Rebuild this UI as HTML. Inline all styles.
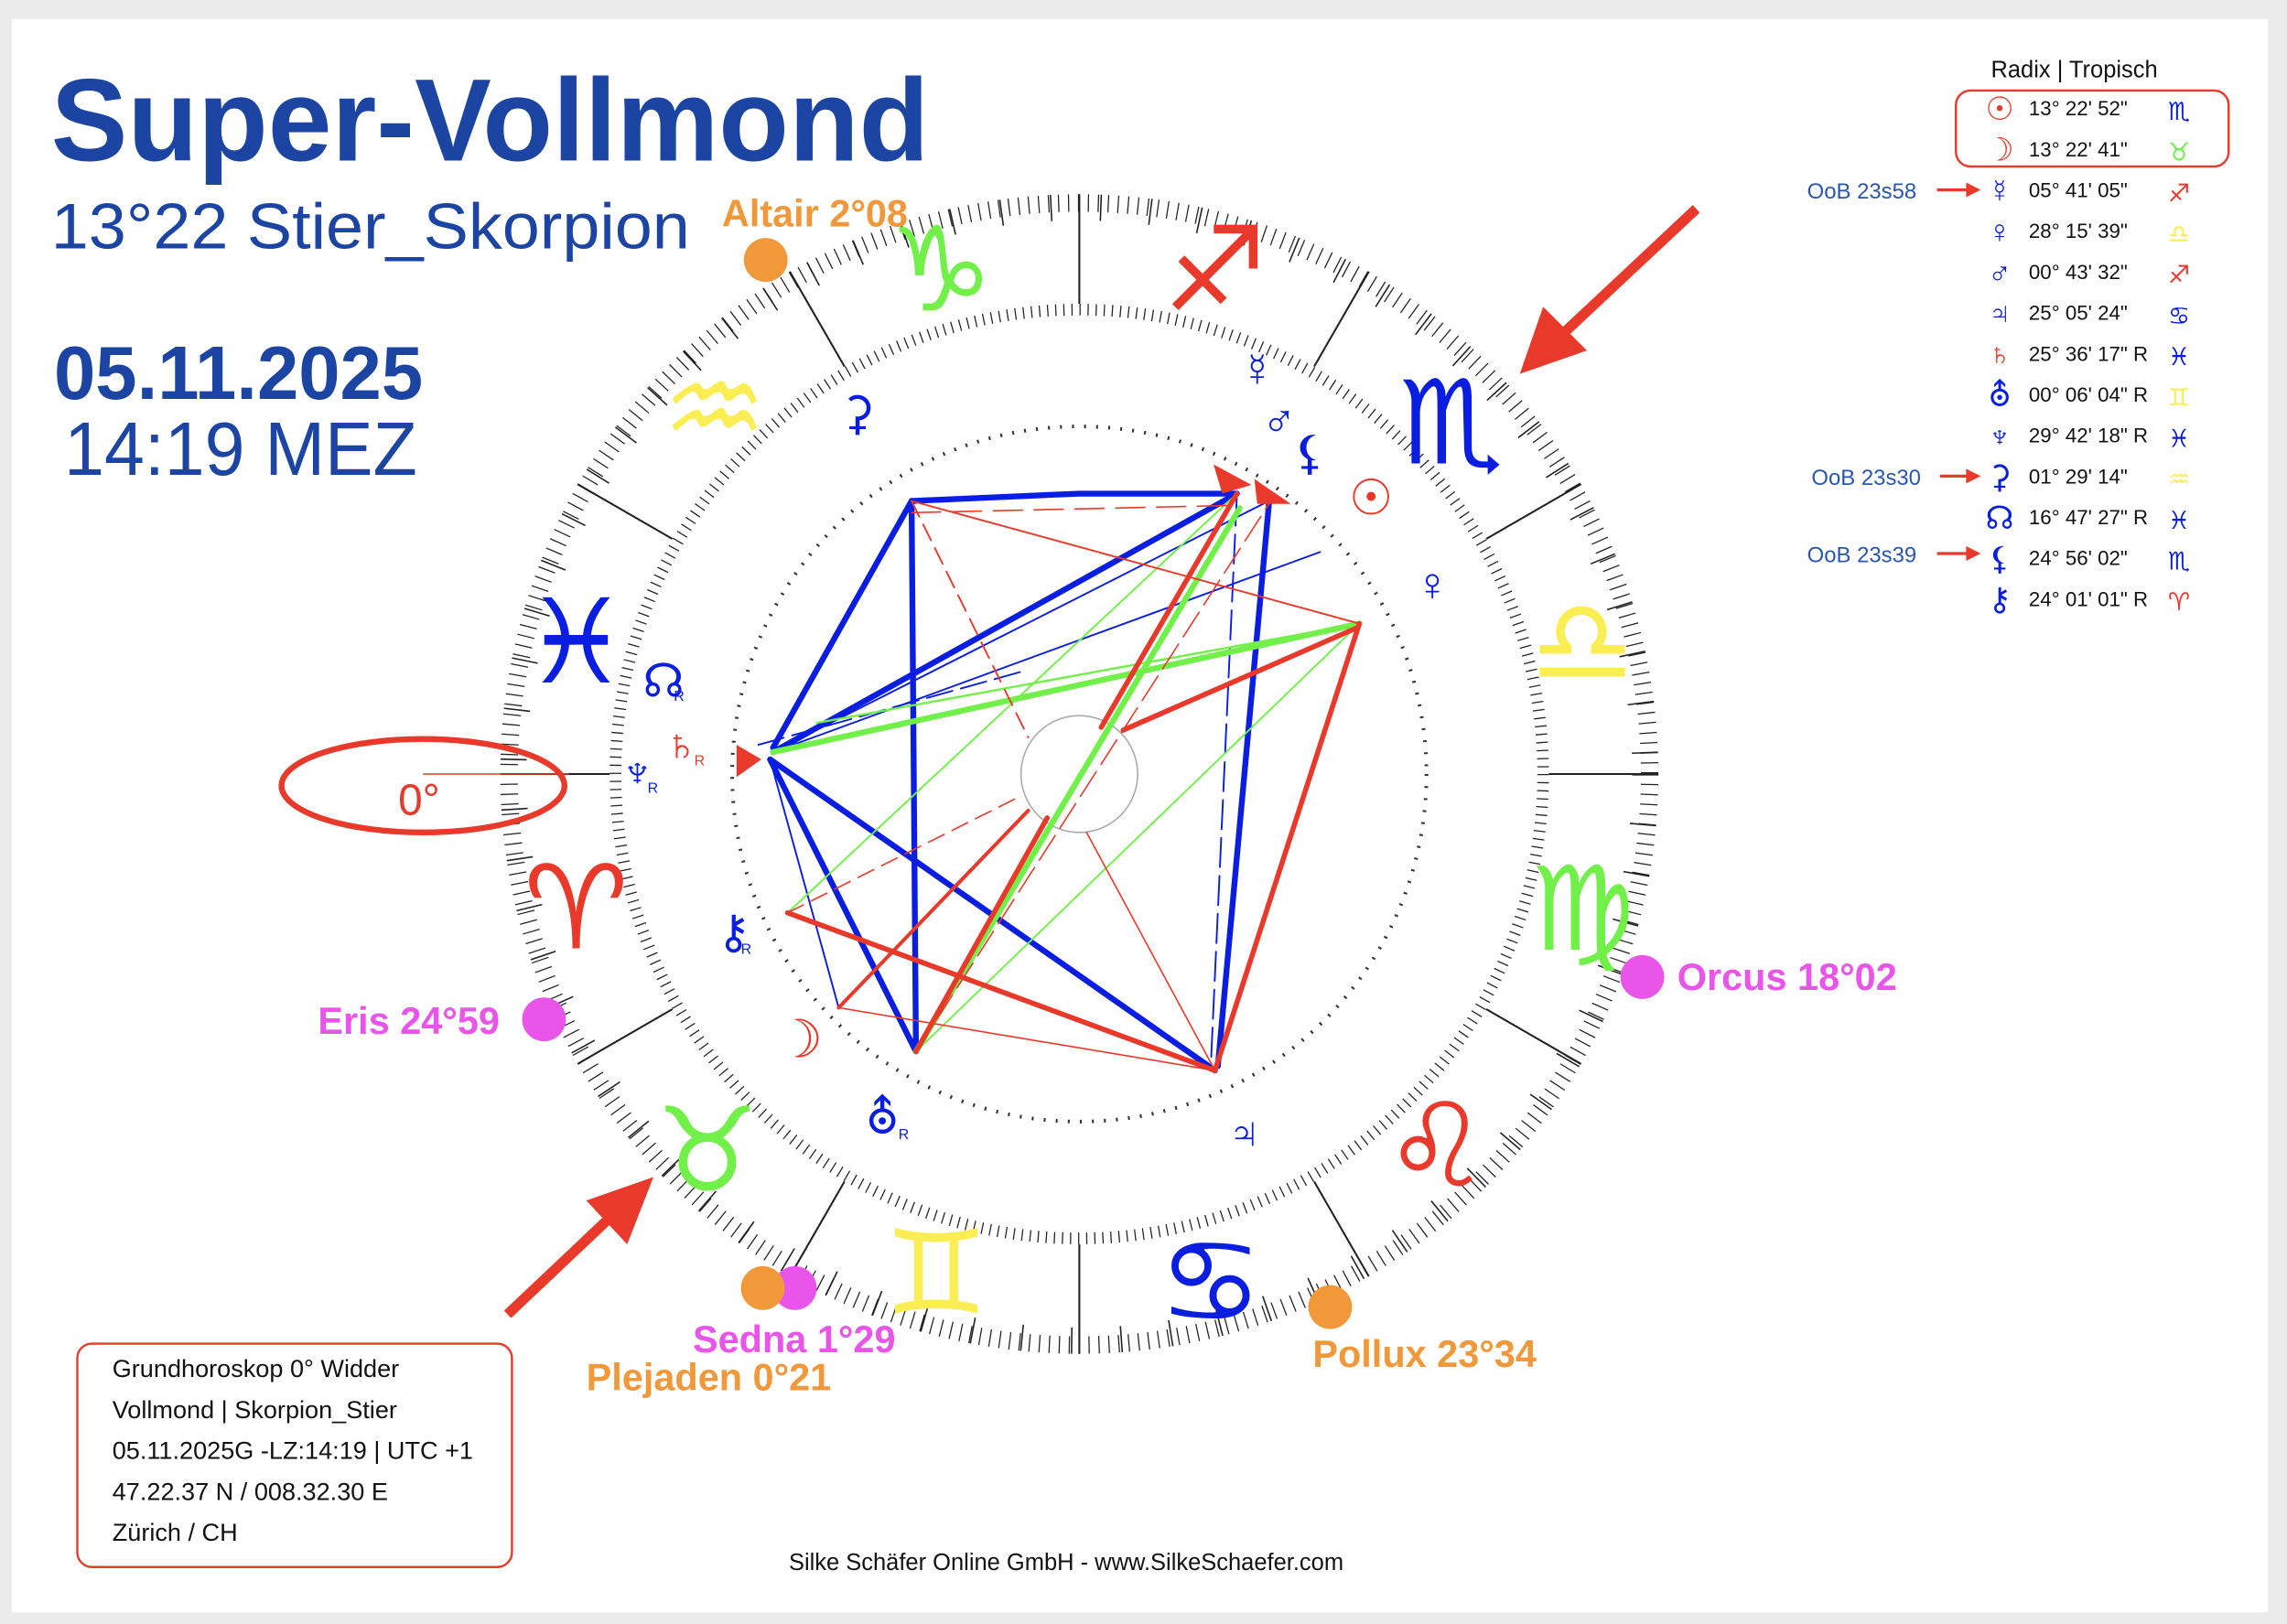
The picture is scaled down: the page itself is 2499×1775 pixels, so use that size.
<!DOCTYPE html>
<html><head><meta charset="utf-8"><style>
html,body{margin:0;padding:0;background:#ebebeb;}
svg{display:block;}
text{font-family:"Liberation Sans","DejaVu Sans",sans-serif;}
.g{font-family:"DejaVu Sans",sans-serif;}
</style></head><body>
<svg width="2499" height="1775" viewBox="0 0 1568 1112" preserveAspectRatio="none" xmlns="http://www.w3.org/2000/svg">
<rect x="0" y="0" width="1568" height="1112" fill="#ebebeb"/>
<rect x="8" y="13" width="1547" height="1091" fill="#fff"/>

<text x="35" y="110" font-size="80" font-weight="bold" fill="#1c45a3" textLength="602" lengthAdjust="spacingAndGlyphs">Super-Vollmond</text>
<text x="35" y="170" font-size="44" fill="#1c45a3" textLength="438" lengthAdjust="spacingAndGlyphs">13°22 Stier_Skorpion</text>
<text x="37" y="273" font-size="52" font-weight="bold" fill="#1c45a3" textLength="253" lengthAdjust="spacingAndGlyphs">05.11.2025</text>
<text x="44" y="325" font-size="52" fill="#1c45a3" textLength="242" lengthAdjust="spacingAndGlyphs">14:19 MEZ</text>

<g fill="none" stroke="#222">
<circle cx="740" cy="530" r="391" stroke-width="12" stroke-dasharray="0.8 6.02"/>
<circle cx="740" cy="530" r="388" stroke-width="18" stroke-dasharray="1 33.12"/>
<circle cx="740" cy="530" r="318" stroke-width="8" stroke-dasharray="0.8 4.75"/>
<circle cx="740" cy="530" r="238" stroke-width="2.5" stroke-dasharray="1.3 6.97" stroke="#333"/>
<circle cx="740" cy="530" r="40" stroke="#aaa" stroke-width="1"/>
</g>
<g stroke="#222" stroke-width="1.3">
<line x1="1062" y1="530" x2="1137" y2="530"/>
<line x1="1019" y1="369" x2="1084" y2="331.5"/>
<line x1="901" y1="251" x2="938.5" y2="186"/>
<line x1="740" y1="208" x2="740" y2="133"/>
<line x1="579" y1="251" x2="541.5" y2="186"/>
<line x1="461" y1="369" x2="396" y2="331.5"/>
<line x1="418" y1="530" x2="343" y2="530"/>
<line x1="461" y1="691" x2="396" y2="728.5"/>
<line x1="579" y1="809" x2="541.5" y2="874"/>
<line x1="740" y1="852" x2="740" y2="927"/>
<line x1="901" y1="809" x2="938.5" y2="874"/>
<line x1="1019" y1="691" x2="1084" y2="728.5"/>
</g>

<g class="g" font-size="80" font-weight="bold" text-anchor="middle" dominant-baseline="central">
<text x="395" y="622" fill="#e8392a">♈</text>
<text x="485" y="788" fill="#72f04a">♉</text>
<text x="642" y="872" fill="#fbee55">♊</text>
<text x="830" y="878" fill="#0a1ee0">♋</text>
<text x="985" y="785" fill="#e8392a">♌</text>
<text x="1085" y="623" fill="#72f04a">♍</text>
<text x="1085" y="440" fill="#fbee55">♎</text>
<text x="995" y="290" fill="#0a1ee0">♏</text>
<text x="833" y="185" fill="#e8392a">♐</text>
<text x="645" y="185" fill="#72f04a">♑</text>
<text x="490" y="280" fill="#fbee55">♒</text>
<text x="395" y="440" fill="#0a1ee0">♓</text>
</g>

<g fill="none" stroke-linecap="round">
<path d="M625 343 L740 338 L848 338" stroke="#0a1ee0" stroke-width="4"/>
<line x1="625" y1="343" x2="530" y2="512" stroke="#0a1ee0" stroke-width="4"/>
<line x1="625" y1="343" x2="628" y2="720" stroke="#0a1ee0" stroke-width="4"/>
<line x1="528" y1="520" x2="833" y2="733" stroke="#0a1ee0" stroke-width="4"/>
<line x1="530" y1="515" x2="848" y2="338" stroke="#0a1ee0" stroke-width="4"/>
<line x1="530" y1="515" x2="870" y2="343" stroke="#0a1ee0" stroke-width="1.2"/>
<line x1="530" y1="515" x2="905" y2="378" stroke="#0a1ee0" stroke-width="1.2"/>
<line x1="870" y1="345" x2="835" y2="730" stroke="#0a1ee0" stroke-width="4"/>
<line x1="848" y1="340" x2="830" y2="733" stroke="#0a1ee0" stroke-width="1.2" stroke-dasharray="20 6"/>
<line x1="528" y1="520" x2="575" y2="690" stroke="#0a1ee0" stroke-width="1.2"/>
<line x1="528" y1="520" x2="628" y2="720" stroke="#0a1ee0" stroke-width="4"/>
<line x1="528" y1="520" x2="833" y2="733" stroke="#0a1ee0" stroke-width="1" stroke-dasharray="18 6"/>
<line x1="520" y1="510" x2="700" y2="460" stroke="#0a1ee0" stroke-width="1.2" stroke-dasharray="18 6"/>
<line x1="530" y1="515" x2="932" y2="427" stroke="#72f04a" stroke-width="4"/>
<line x1="560" y1="495" x2="932" y2="427" stroke="#72f04a" stroke-width="1.5"/>
<line x1="628" y1="720" x2="932" y2="427" stroke="#72f04a" stroke-width="1.2"/>
<line x1="540" y1="625" x2="848" y2="338" stroke="#72f04a" stroke-width="1.2"/>
<line x1="628" y1="720" x2="850" y2="348" stroke="#72f04a" stroke-width="4"/>
<line x1="625" y1="343" x2="932" y2="427" stroke="#e8392a" stroke-width="1.2"/>
<line x1="625" y1="343" x2="705" y2="505" stroke="#e8392a" stroke-width="1.2" stroke-dasharray="12 6"/>
<line x1="625" y1="351" x2="848" y2="346" stroke="#e8392a" stroke-width="1" stroke-dasharray="20 8"/>
<line x1="755" y1="498" x2="848" y2="338" stroke="#e8392a" stroke-width="3.5"/>
<line x1="770" y1="500" x2="930" y2="430" stroke="#e8392a" stroke-width="3.5"/>
<line x1="833" y1="733" x2="932" y2="427" stroke="#e8392a" stroke-width="3.5"/>
<line x1="575" y1="690" x2="833" y2="733" stroke="#e8392a" stroke-width="1"/>
<line x1="540" y1="625" x2="833" y2="733" stroke="#e8392a" stroke-width="3.5"/>
<line x1="628" y1="720" x2="718" y2="560" stroke="#e8392a" stroke-width="3.5"/>
<line x1="575" y1="690" x2="705" y2="555" stroke="#e8392a" stroke-width="2.5"/>
<line x1="540" y1="625" x2="700" y2="545" stroke="#e8392a" stroke-width="1" stroke-dasharray="12 6"/>
<line x1="833" y1="733" x2="745" y2="570" stroke="#e8392a" stroke-width="1"/>
<line x1="628" y1="720" x2="870" y2="345" stroke="#e8392a" stroke-width="1" stroke-dasharray="20 6"/>
</g>
<g fill="#e8392a">
<polygon points="505,510 522,520 505,532"/>
<polygon points="832,318 858,332 838,338"/>
<polygon points="860,328 885,345 862,345"/>
</g>

<g class="g" font-size="32" font-weight="bold" text-anchor="middle" dominant-baseline="central" fill="#0a1ee0">
<text x="862" y="253">☿</text>
<text x="877" y="287">♂</text>
<text x="898" y="310">⚸</text>
<text x="940" y="341" fill="#e8392a" font-size="34">☉</text>
<text x="982" y="400">♀</text>
<text x="853" y="776">♃</text>
<text x="605" y="765">⛢</text>
<text x="548" y="712" fill="#e8392a" font-size="36">☽</text>
<text x="503" y="638">⚷</text>
<text x="467" y="510" fill="#e8392a">♄</text>
<text x="437" y="528">♆</text>
<text x="455" y="466">☊</text>
<text x="588" y="283">⚳</text>
</g>
<g font-size="10" fill="#0a1ee0">
<text x="616" y="780">R</text><text x="508" y="653">R</text><text x="476" y="524" fill="#e8392a">R</text>
<text x="444" y="543">R</text><text x="462" y="480">R</text>
</g>

<g font-weight="bold" font-size="26">
<text x="495" y="155" fill="#f0983a">Altair 2°08</text>
<text x="218" y="708" fill="#e855e8">Eris 24°59</text>
<text x="1150" y="678" fill="#e855e8">Orcus 18°02</text>
<text x="475" y="926" fill="#e855e8">Sedna 1°29</text>
<text x="402" y="952" fill="#f0983a">Plejaden 0°21</text>
<text x="900" y="936" fill="#f0983a">Pollux 23°34</text>
</g>
<circle cx="525" cy="178" r="15" fill="#f0983a"/>
<circle cx="373" cy="698" r="15" fill="#e855e8"/>
<circle cx="1126" cy="669" r="15" fill="#e855e8"/>
<circle cx="545" cy="882" r="15" fill="#e855e8"/>
<circle cx="523" cy="882" r="15" fill="#f0983a"/>
<circle cx="912" cy="895" r="15" fill="#f0983a"/>

<g stroke="#e8392a" stroke-width="7" fill="#e8392a">
<line x1="1163" y1="143" x2="1070" y2="230"/>
<polygon points="1042,256 1058,210 1088,240" stroke="none"/>
<line x1="348" y1="900" x2="420" y2="832"/>
<polygon points="448,806 430,852 402,822" stroke="none"/>
</g>
<ellipse cx="290" cy="538" rx="97" ry="32" fill="none" stroke="#e8392a" stroke-width="4"/>
<line x1="290" y1="530" x2="390" y2="530" stroke="#e8392a" stroke-width="1"/>
<text x="273" y="558" font-size="30" fill="#e8392a">0°</text>

<text x="1365" y="53" font-size="16" fill="#111">Radix | Tropisch</text>
<rect x="1341" y="62" width="187" height="52" rx="10" fill="none" stroke="#e8392a" stroke-width="1.5"/>
<g font-size="14" fill="#111">
<text x="1391" y="79">13° 22' 52"</text>
<text x="1391" y="107">13° 22' 41"</text>
<text x="1391" y="135">05° 41' 05"</text>
<text x="1391" y="163">28° 15' 39"</text>
<text x="1391" y="191">00° 43' 32"</text>
<text x="1391" y="219">25° 05' 24"</text>
<text x="1391" y="247">25° 36' 17" R</text>
<text x="1391" y="275">00° 06' 04" R</text>
<text x="1391" y="303">29° 42' 18" R</text>
<text x="1391" y="331">01° 29' 14"</text>
<text x="1391" y="359">16° 47' 27" R</text>
<text x="1391" y="387">24° 56' 02"</text>
<text x="1391" y="415">24° 01' 01" R</text>
</g>
<g class="g" font-size="22" font-weight="bold" text-anchor="middle" fill="#0a1ee0">
<text x="1371" y="82" fill="#e8392a">☉</text>
<text x="1371" y="110" fill="#e8392a">☽</text>
<text x="1371" y="138">☿</text>
<text x="1371" y="166">♀</text>
<text x="1371" y="194">♂</text>
<text x="1371" y="222">♃</text>
<text x="1371" y="250" fill="#e8392a">♄</text>
<text x="1371" y="278">⛢</text>
<text x="1371" y="306">♆</text>
<text x="1371" y="334">⚳</text>
<text x="1371" y="362">☊</text>
<text x="1371" y="390">⚸</text>
<text x="1371" y="418">⚷</text>
</g>
<g class="g" font-size="17" font-weight="bold" text-anchor="middle">
<text x="1494" y="82" fill="#0a1ee0">♏</text>
<text x="1494" y="110" fill="#72f04a">♉</text>
<text x="1494" y="138" fill="#e8392a">♐</text>
<text x="1494" y="166" fill="#fbee55">♎</text>
<text x="1494" y="194" fill="#e8392a">♐</text>
<text x="1494" y="222" fill="#0a1ee0">♋</text>
<text x="1494" y="250" fill="#0a1ee0">♓</text>
<text x="1494" y="278" fill="#fbee55">♊</text>
<text x="1494" y="306" fill="#0a1ee0">♓</text>
<text x="1494" y="334" fill="#fbee55">♒</text>
<text x="1494" y="362" fill="#0a1ee0">♓</text>
<text x="1494" y="390" fill="#0a1ee0">♏</text>
<text x="1494" y="418" fill="#e8392a">♈</text>
</g>
<g font-size="15" fill="#2a56b0">
<text x="1239" y="136">OoB 23s58</text>
<text x="1242" y="332">OoB 23s30</text>
<text x="1239" y="385">OoB 23s39</text>
</g>
<g stroke="#e8392a" stroke-width="2" fill="#e8392a">
<line x1="1328" y1="130" x2="1350" y2="130"/><polygon points="1358,130 1348,125 1348,135" stroke="none"/>
<line x1="1330" y1="326" x2="1350" y2="326"/><polygon points="1358,326 1348,321 1348,331" stroke="none"/>
<line x1="1328" y1="379" x2="1350" y2="379"/><polygon points="1358,379 1348,374 1348,384" stroke="none"/>
</g>

<rect x="53" y="920" width="298" height="153" rx="10" fill="#fff" stroke="#e8392a" stroke-width="1.5"/>
<g font-size="17" fill="#111">
<text x="77" y="943">Grundhoroskop 0° Widder</text>
<text x="77" y="971">Vollmond | Skorpion_Stier</text>
<text x="77" y="999">05.11.2025G -LZ:14:19 | UTC +1</text>
<text x="77" y="1027">47.22.37 N / 008.32.30 E</text>
<text x="77" y="1055">Zürich / CH</text>
</g>
<text x="731" y="1075" font-size="16" fill="#111" text-anchor="middle">Silke Schäfer Online GmbH - www.SilkeSchaefer.com</text>
</svg>
</body></html>
